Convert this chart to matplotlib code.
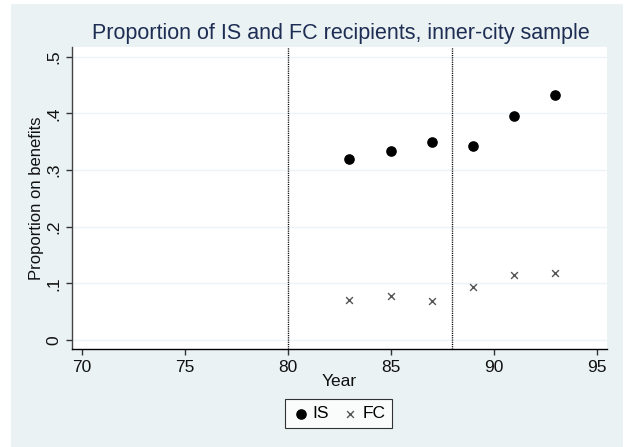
import matplotlib
matplotlib.use("Agg")
import matplotlib.pyplot as plt
from matplotlib.patches import Rectangle
from matplotlib import font_manager

years = [83, 85, 87, 89, 91, 93]
is_vals = [0.320, 0.334, 0.350, 0.342, 0.396, 0.433]
fc_vals = [0.070, 0.078, 0.069, 0.093, 0.114, 0.119]
vlines = [80, 88]
xticks = [70, 75, 80, 85, 90, 95]
yticks = [0, 0.1, 0.2, 0.3, 0.4, 0.5]
ytick_labels = ["0", ".1", ".2", ".3", ".4", ".5"]
title = "Proportion of IS and FC recipients, inner-city sample"

names = {f.name for f in font_manager.fontManager.ttflist}
fam = "Liberation Sans Narrow" if "Liberation Sans Narrow" in names else "Liberation Sans"
plt.rcParams["font.family"] = [fam, "DejaVu Sans"]

W, H = 626, 447
fig = plt.figure(figsize=(W / 100, H / 100), dpi=100)
fig.patch.set_facecolor("white")
bg = "#EAF2F3"
fig.patches.append(Rectangle((11 / W, 0), (623 - 11) / W, 1 - 4 / H,
                             transform=fig.transFigure, facecolor=bg,
                             edgecolor="none", zorder=-10))

ax = fig.add_axes([72 / W, 1 - 349.3 / H, (606.7 - 72) / W, (349.3 - 46.7) / H])
ax.set_zorder(5)
ax.set_facecolor("white")
ax.set_xlim(69.53, 95.49)
ax.set_ylim(-0.0164, 0.5176)

for y in yticks:
    ax.axhline(y, color="#EEF4F5", lw=1.0, zorder=1)
for v in vlines:
    ax.axvline(v, color="black", lw=1.0, ls=(0, (0.8, 0.8)), zorder=2)

ax.scatter(years, is_vals, s=44, marker="o", color="black", zorder=3, label="IS")
ax.scatter(years, fc_vals, s=24, marker="x", color="#555555", linewidths=1.0,
           zorder=3, label="FC")

for s in ["top", "right"]:
    ax.spines[s].set_visible(False)
ax.spines["left"].set_color("#444444")
ax.spines["bottom"].set_color("black")
ax.spines["left"].set_linewidth(1.0)
ax.spines["bottom"].set_linewidth(1.0)

ax.set_xticks(xticks)
ax.set_xticklabels([str(t) for t in xticks], fontsize=12.5, color="#111111")
ax.set_yticks(yticks)
ax.set_yticklabels(ytick_labels, fontsize=12.5, rotation=90, va="center", color="#111111")
ax.tick_params(axis="both", length=4, width=1, color="#333333", pad=4)

ax.set_xlabel("Year", fontsize=12.5, labelpad=-1, color="#111111")
ax.set_ylabel("Proportion on benefits", fontsize=12, labelpad=1, color="#111111")

fig.text(341 / W, 1 - 33 / H, title, ha="center", va="center",
         fontsize=15.5, color="#1E2D53")

leg = fig.legend(loc="center", bbox_to_anchor=(338.5 / W, 1 - 413.5 / H), ncol=2,
                 frameon=True, fancybox=False, fontsize=12.5, handletextpad=0.2,
                 columnspacing=0.7, borderpad=0.4, handlelength=1.0,
                 markerscale=1.0)
leg.get_frame().set_edgecolor("black")
leg.get_frame().set_linewidth(0.8)

fig.savefig("out.png", dpi=100, facecolor="white")
